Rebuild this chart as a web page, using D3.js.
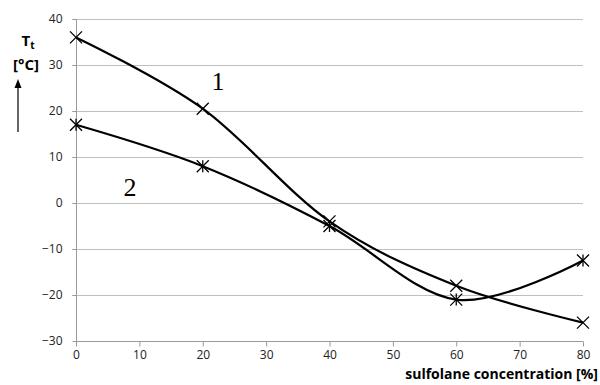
<!DOCTYPE html>
<meta charset="utf-8">
<style>
body { margin: 0; background: #fff; }
text { font-family: "Open Sans", "Noto Sans", sans-serif; }
.grid line { stroke: #bfbfbf; stroke-width: 1; }
.tick text { font-size: 12px; fill: #222; }
</style>
<svg width="600" height="385"></svg>
<script src="https://d3js.org/d3.v7.min.js"></script>
<script>

// data
var conc = [0, 20, 40, 60, 80];
var series1 = [36, 20.5, -4, -18, -26];    // X markers
var series2 = [17, 8, -5, -21, -12.5];     // asterisk markers
var xTicks = [0, 10, 20, 30, 40, 50, 60, 70, 80];
var yTicks = [-30, -20, -10, 0, 10, 20, 30, 40];

var svg = d3.select("svg");

var x = d3.scaleLinear().domain([0, 80]).range([76, 583]);
var y = d3.scaleLinear().domain([-30, 40]).range([341, 19]);

// horizontal grid
svg.append("g")
    .attr("class", "grid")
  .selectAll("line")
  .data(yTicks.filter(function(d) { return d > -30; }))
  .enter().append("line")
    .attr("x1", x(0) - 4)
    .attr("x2", x(80))
    .attr("y1", function(d) { return Math.round(y(d)) + 0.5; })
    .attr("y2", function(d) { return Math.round(y(d)) + 0.5; });

// y axis
var yAxis = svg.append("g")
    .attr("transform", "translate(" + (x(0) + 0.5) + ",0)")
    .call(d3.axisLeft(y).tickValues(yTicks).tickSize(4).tickPadding(10));
yAxis.selectAll("line, path").attr("stroke", "#9a9a9a");
yAxis.select(".domain").attr("d", "M0," + y(40) + "V" + y(-30));

// x axis
var xAxis = svg.append("g")
    .attr("transform", "translate(0," + (Math.round(y(-30)) + 0.5) + ")")
    .call(d3.axisBottom(x).tickValues(xTicks).tickSize(5).tickPadding(4));
xAxis.selectAll("line, path").attr("stroke", "#9a9a9a");
xAxis.select(".domain").attr("d", "M" + x(0) + ",0H" + x(80));

// smoothed lines (Excel style)
var line = d3.line()
    .x(function(d, i) { return x(conc[i]); })
    .y(function(d) { return y(d); })
    .curve(d3.curveCardinal.tension(0));

[series1, series2].forEach(function(s) {
  svg.append("path")
      .datum(s)
      .attr("fill", "none")
      .attr("stroke", "#000")
      .attr("stroke-width", 2.2)
      .attr("d", line);
});

// markers
var m = 6;
function cross(g) {
  g.append("path")
      .attr("d", "M" + -m + "," + -m + "L" + m + "," + m + "M" + -m + "," + m + "L" + m + "," + -m)
      .attr("stroke", "#000")
      .attr("stroke-width", 1.3)
      .attr("fill", "none");
}

svg.append("g").selectAll("g")
  .data(series1)
  .enter().append("g")
    .attr("transform", function(d, i) { return "translate(" + x(conc[i]) + "," + y(d) + ")"; })
    .call(cross);

svg.append("g").selectAll("g")
  .data(series2)
  .enter().append("g")
    .attr("transform", function(d, i) { return "translate(" + x(conc[i]) + "," + y(d) + ")"; })
    .call(cross)
    .append("path")
      .attr("d", "M0," + -m + "V" + m)
      .attr("stroke", "#000")
      .attr("stroke-width", 1.3);

// curve labels
svg.append("text")
    .attr("x", 218).attr("y", 90)
    .attr("text-anchor", "middle")
    .style("font-family", "'Liberation Serif', serif")
    .style("font-size", "26px")
    .text("1");
svg.append("text")
    .attr("x", 130).attr("y", 196)
    .attr("text-anchor", "middle")
    .style("font-family", "'Liberation Serif', serif")
    .style("font-size", "26px")
    .text("2");

// y axis title
var yt = svg.append("text")
    .attr("x", 28).attr("y", 46)
    .attr("text-anchor", "middle")
    .style("font-size", "15px")
    .style("font-weight", "bold");
yt.append("tspan").text("T");
yt.append("tspan").attr("dy", 3).style("font-size", "10px").text("t");

svg.append("text")
    .attr("x", 26).attr("y", 70)
    .attr("text-anchor", "middle")
    .style("font-size", "15px")
    .style("font-weight", "bold")
    .text("[°C]");

// arrow
svg.append("line")
    .attr("x1", 18).attr("x2", 18)
    .attr("y1", 132).attr("y2", 86)
    .attr("stroke", "#000")
    .attr("stroke-width", 1.2);
svg.append("path")
    .attr("d", "M18,79L14.5,88L21.5,88Z")
    .attr("fill", "#000");

// x axis title
svg.append("text")
    .attr("x", 598).attr("y", 379)
    .attr("text-anchor", "end")
    .style("font-size", "14px")
    .style("font-weight", "bold")
    .text("sulfolane concentration [%]");

</script>
